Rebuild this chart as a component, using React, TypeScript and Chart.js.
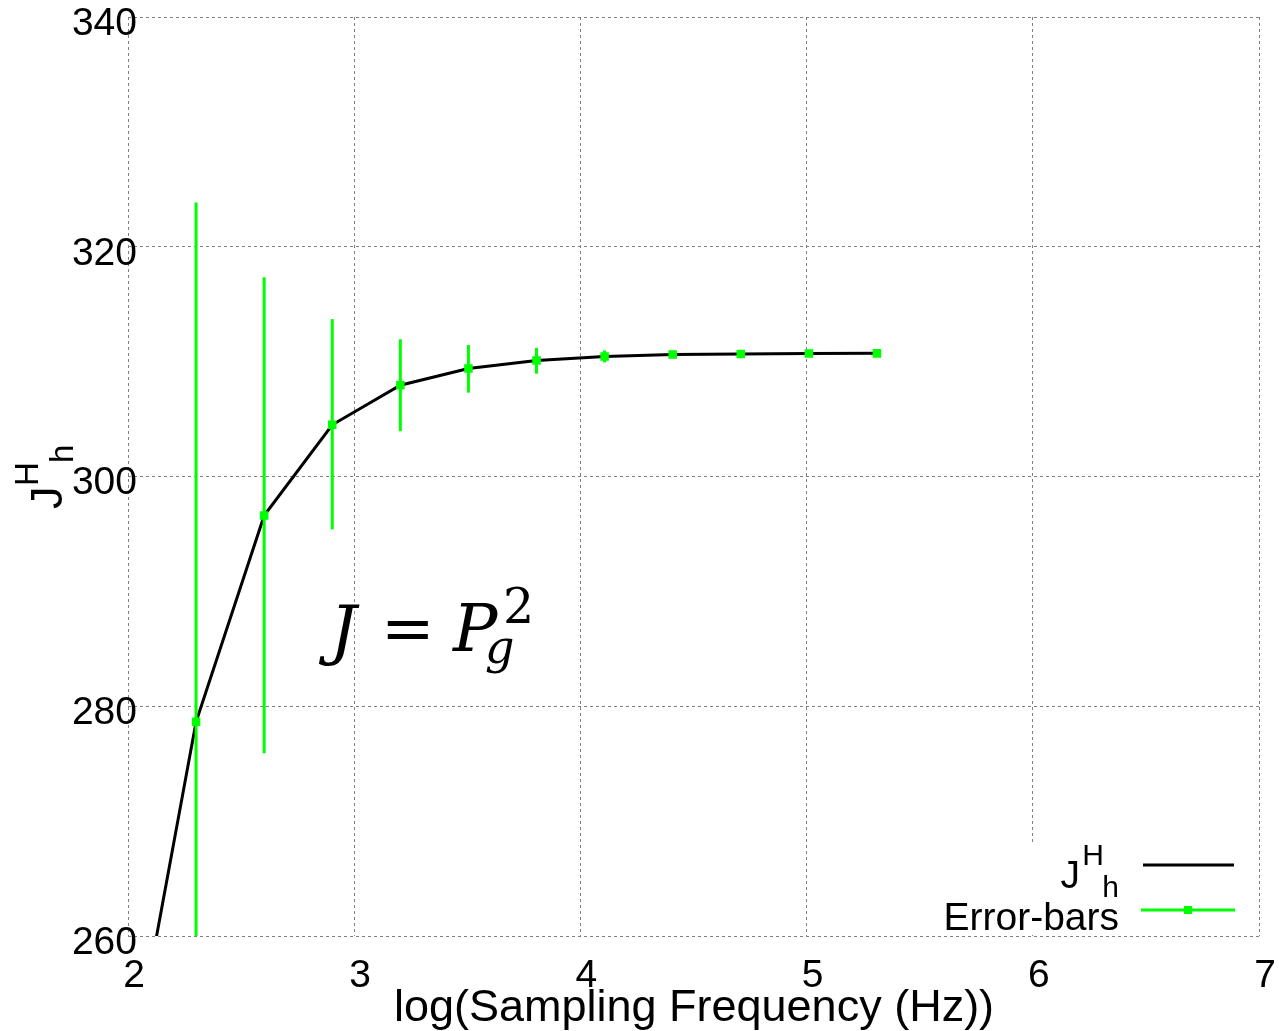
import React, { useEffect, useRef } from 'react';
import { Chart, registerables } from 'chart.js';

Chart.register(...registerables);

// log10 of sampling frequency (Hz)
const freqLog = [2.301, 2.602, 2.903, 3.204, 3.505, 3.806, 4.107, 4.408, 4.709, 5.01, 5.311];
// J^H_h mean values
const jValues = [278.65, 296.6, 304.5, 307.95, 309.4, 310.1, 310.45, 310.62, 310.67, 310.71, 310.72];
// lower / upper error-bar ends
const errLow = [233.4, 275.9, 295.4, 303.95, 307.3, 308.95, 309.93, 310.45, 310.5, 310.55, 310.55];
const errHigh = [323.85, 317.35, 313.7, 311.95, 311.45, 311.2, 310.98, 310.8, 310.85, 310.9, 310.9];
// the J^H_h curve starts from a lower point that is clipped by the axis
const lineStartX = [2.0];
const lineStartY = [246.5];

const xTicks = [2, 3, 4, 5, 6, 7];
const yTicks = [260, 280, 300, 320, 340];
const xTitle = 'log(Sampling Frequency (Hz))';
const legendLabels = ['J', 'Error-bars'];

const GREEN = '#00ff00';
const SANS = '"Liberation Sans", Arial, sans-serif';
const SERIF = '"DejaVu Serif", serif';

const annotations = {
  id: 'annotations',
  afterDatasetDraw(chart: any, args: any) {
    if (args.index !== 0) return;
    const ctx = chart.ctx;
    const xs = chart.scales.x;
    const ys = chart.scales.y;
    const a = chart.chartArea;
    ctx.save();
    ctx.beginPath();
    ctx.rect(a.left, a.top, a.right - a.left, a.bottom - a.top);
    ctx.clip();
    ctx.strokeStyle = GREEN;
    ctx.lineWidth = 3;
    for (let i = 0; i < freqLog.length; i++) {
      const px = xs.getPixelForValue(freqLog[i]);
      ctx.beginPath();
      ctx.moveTo(px, ys.getPixelForValue(errLow[i]));
      ctx.lineTo(px, ys.getPixelForValue(errHigh[i]));
      ctx.stroke();
    }
    ctx.restore();
  },
  afterDraw(chart: any) {
    const ctx = chart.ctx;
    const xs = chart.scales.x;
    const ys = chart.scales.y;
    ctx.save();
    ctx.fillStyle = '#000';
    // y tick labels
    ctx.font = `39px ${SANS}`;
    ctx.textAlign = 'right';
    ctx.textBaseline = 'middle';
    yTicks.forEach((v) => ctx.fillText(String(v), 137, ys.getPixelForValue(v) + 7));
    // x tick labels
    ctx.textAlign = 'center';
    xTicks.forEach((v) => ctx.fillText(String(v), xs.getPixelForValue(v) + 6, 976));
    // x title
    ctx.font = `45px ${SANS}`;
    ctx.textBaseline = 'alphabetic';
    ctx.fillText(xTitle, 694, 1021);
    // y title: J^H_h rotated
    ctx.save();
    ctx.translate(62, 509);
    ctx.rotate(-Math.PI / 2);
    ctx.textAlign = 'left';
    ctx.font = `45px ${SANS}`;
    ctx.fillText('J', 0, 0);
    ctx.font = `33px ${SANS}`;
    ctx.fillText('H', 23, -24);
    ctx.fillText('h', 46, 11);
    ctx.restore();

    // equation J = P_g^2
    ctx.fillStyle = '#000';
    ctx.textAlign = 'left';
    ctx.font = `italic 66px ${SERIF}`;
    ctx.fillText('J', 330, 652);
    ctx.font = `64px ${SERIF}`;
    ctx.fillText('=', 381, 650);
    ctx.font = `italic 66px ${SERIF}`;
    ctx.fillText('P', 453, 651);
    ctx.font = `italic 46px ${SERIF}`;
    ctx.fillText('g', 485, 663);
    ctx.font = `49px ${SERIF}`;
    ctx.fillText('2', 503, 623);

    // legend
    ctx.fillStyle = '#fff';
    ctx.fillRect(935, 843, 323, 92);
    ctx.fillStyle = '#000';
    ctx.textAlign = 'right';
    ctx.font = `39px ${SANS}`;
    ctx.fillText(legendLabels[1], 1119, 930);
    ctx.font = `30px ${SANS}`;
    ctx.fillText('h', 1119, 897);
    ctx.fillText('H', 1104, 865);
    ctx.font = `39px ${SANS}`;
    ctx.fillText(legendLabels[0], 1080, 888);
    ctx.lineWidth = 3;
    ctx.strokeStyle = '#000';
    ctx.beginPath();
    ctx.moveTo(1143, 865);
    ctx.lineTo(1234, 865);
    ctx.stroke();
    ctx.strokeStyle = GREEN;
    ctx.beginPath();
    ctx.moveTo(1141, 910);
    ctx.lineTo(1235, 910);
    ctx.stroke();
    ctx.fillStyle = GREEN;
    ctx.fillRect(1184, 906, 8, 8);
    ctx.restore();
  },
};

export default function App() {
  const ref = useRef<HTMLCanvasElement>(null);
  useEffect(() => {
    if (!ref.current) return;
    const gridOpts = {
      color: '#808080',
      lineWidth: 1,
      drawTicks: false,
    };
    const chart = new Chart(ref.current, {
      type: 'scatter',
      data: {
        datasets: [
          {
            label: 'J^H_h',
            data: [...lineStartX, ...freqLog].map((x, i) => ({ x, y: [...lineStartY, ...jValues][i] })),
            showLine: true,
            borderColor: '#000',
            backgroundColor: '#000',
            borderWidth: 3,
            pointRadius: 0,
            tension: 0,
            clip: 0,
            order: 2,
          },
          {
            label: 'Error-bars',
            data: freqLog.map((x, i) => ({ x, y: jValues[i] })),
            showLine: false,
            borderColor: GREEN,
            backgroundColor: GREEN,
            pointStyle: 'rect',
            pointRadius: 5,
            borderWidth: 1.5,
            clip: 0,
            order: 1,
          },
        ],
      },
      options: {
        responsive: false,
        maintainAspectRatio: false,
        devicePixelRatio: 1,
        animation: false,
        layout: { padding: { left: 128, top: 17, right: 21, bottom: 95 } },
        plugins: { legend: { display: false }, tooltip: { enabled: false } },
        scales: {
          x: {
            type: 'linear',
            min: 2,
            max: 7,
            ticks: { display: false, stepSize: 1 },
            grid: gridOpts,
            border: { display: false, dash: [3, 3] },
          },
          y: {
            type: 'linear',
            min: 260,
            max: 340,
            ticks: { display: false, stepSize: 20 },
            grid: gridOpts,
            border: { display: false, dash: [3, 3] },
          },
        },
      },
      plugins: [annotations],
    } as any);
    return () => chart.destroy();
  }, []);
  return (
    <div style={{ position: 'absolute', left: 0, top: 0, width: 1280, height: 1031, background: '#fff' }}>
      <canvas ref={ref} width={1280} height={1031} />
    </div>
  );
}
